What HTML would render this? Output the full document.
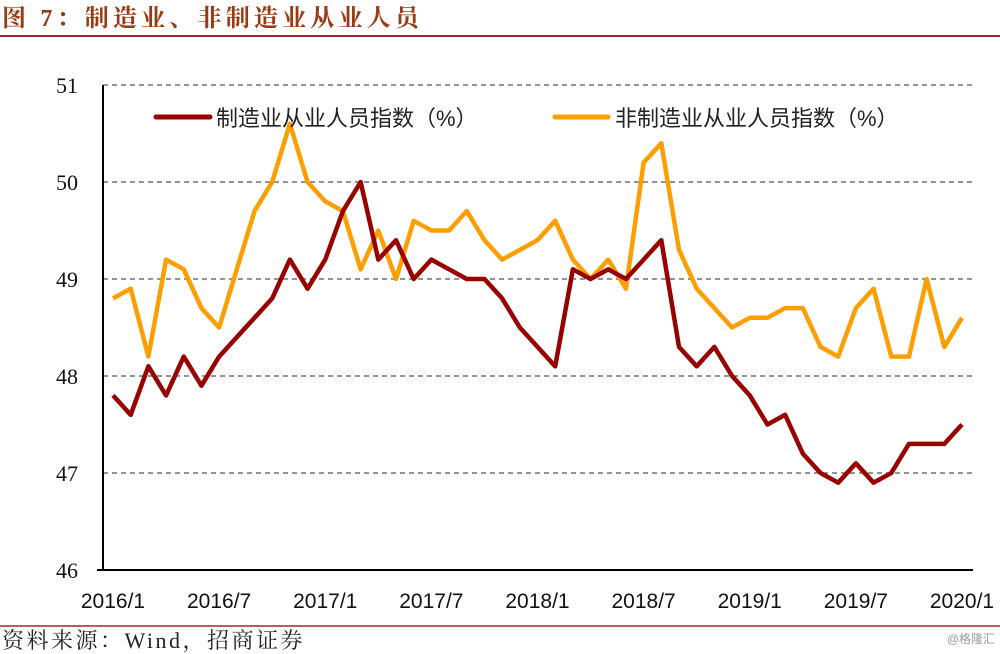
<!DOCTYPE html>
<html><head><meta charset="utf-8"><style>
body{margin:0;background:#fff;width:1000px;height:654px;overflow:hidden;}
svg{display:block}
</style></head><body>
<svg width="1000" height="654" viewBox="0 0 1000 654" id="chart">
<text x="2" y="26" font-family="'Liberation Serif','Noto Serif CJK SC',serif" font-size="24" font-weight="bold" fill="#9B3A12" letter-spacing="4.2">图 7：制造业、非制造业从业人员</text>
<line x1="0" y1="36" x2="1000" y2="36" stroke="#A0282A" stroke-width="2"/>
<g id="grid"></g>
<g id="yticks"></g>
<g id="xticks"></g>
<line x1="103" y1="85" x2="103" y2="570" stroke="#000" stroke-width="2"/>
<line x1="97" y1="570" x2="973" y2="570" stroke="#000" stroke-width="2"/>
<g id="series"></g>
<g>
<line x1="156" y1="117" x2="210" y2="117" stroke="#990000" stroke-width="5" stroke-linecap="round"/>
<text x="216" y="126" font-family="'Liberation Sans','Noto Sans CJK SC',sans-serif" font-size="22" fill="#222">制造业从业人员指数（%）</text>
<line x1="555" y1="117" x2="608" y2="117" stroke="#FF9E00" stroke-width="5" stroke-linecap="round"/>
<text x="615" y="126" font-family="'Liberation Sans','Noto Sans CJK SC',sans-serif" font-size="22" fill="#222">非制造业从业人员指数（%）</text>
</g>
<line x1="0" y1="626" x2="1000" y2="626" stroke="#A0282A" stroke-width="1.5"/>
<text x="2" y="648" font-family="'Liberation Serif','Noto Serif CJK SC',serif" font-size="22" fill="#222" letter-spacing="2.5">资料来源：Wind，招商证券</text>
<text x="995" y="643" text-anchor="end" font-family="'Liberation Sans','Noto Sans CJK SC',sans-serif" font-size="12" fill="#999">@格隆汇</text>
</svg>
<script>
const manufacturing=[47.8,47.6,48.1,47.8,48.2,47.9,48.2,48.4,48.6,48.8,49.2,48.9,
49.2,49.7,50.0,49.2,49.4,49.0,49.2,49.1,49.0,49.0,48.8,48.5,
48.3,48.1,49.1,49.0,49.1,49.0,49.2,49.4,48.3,48.1,48.3,48.0,
47.8,47.5,47.6,47.2,47.0,46.9,47.1,46.9,47.0,47.3,47.3,47.3,47.5];
const nonManufacturing=[48.8,48.9,48.2,49.2,49.1,48.7,48.5,49.1,49.7,50.0,50.6,50.0,
49.8,49.7,49.1,49.5,49.0,49.6,49.5,49.5,49.7,49.4,49.2,49.3,
49.4,49.6,49.2,49.0,49.2,48.9,50.2,50.4,49.3,48.9,48.7,48.5,
48.6,48.6,48.7,48.7,48.3,48.2,48.7,48.9,48.2,48.2,49.0,48.3,48.6];
const yTicks=[46,47,48,49,50,51];
const xTickLabels=["2016/1","2016/7","2017/1","2017/7","2018/1","2018/7","2019/1","2019/7","2020/1"];
const xTickIdx=[0,6,12,18,24,30,36,42,48];

const NS="http://www.w3.org/2000/svg";
const x0=113,x1=962,yTop=85,yBot=570,vMin=46,vMax=51;
function xs(i){return x0+(x1-x0)*i/(manufacturing.length-1);}
function ys(v){return yBot-(v-vMin)/(vMax-vMin)*(yBot-yTop);}
function mk(tag,attrs,parent){const e=document.createElementNS(NS,tag);for(const k in attrs)e.setAttribute(k,attrs[k]);parent.appendChild(e);return e;}
const grid=document.getElementById('grid'),yt=document.getElementById('yticks'),xt=document.getElementById('xticks'),ser=document.getElementById('series');
yTicks.forEach(v=>{
 if(v>vMin){const l=mk('line',{x1:103,x2:973,y1:ys(v),y2:ys(v),stroke:'#555','stroke-width':1.3,'stroke-dasharray':'5,4'},grid);
 
 }
 const t=mk('text',{x:78,y:ys(v)+8,'text-anchor':'end','font-family':"'Liberation Serif',serif",'font-size':22,fill:'#111'},yt);
 t.textContent=v;
 
 
});
xTickLabels.forEach((s,k)=>{
 const t=mk('text',{x:xs(xTickIdx[k]),y:608,'text-anchor':'middle','font-family':"'Liberation Sans',sans-serif",'font-size':21,fill:'#111'},xt);
 t.textContent=s;
 
 
});
function line(data,color,name){
 const p=mk('polyline',{points:data.map((v,i)=>xs(i)+','+ys(v)).join(' '),fill:'none',stroke:color,'stroke-width':4.5,'stroke-linejoin':'round'},ser);
 
 
}
line(nonManufacturing,'#FF9E00','non-manufacturing-line');
line(manufacturing,'#990000','manufacturing-line');
</script>
</body></html>
